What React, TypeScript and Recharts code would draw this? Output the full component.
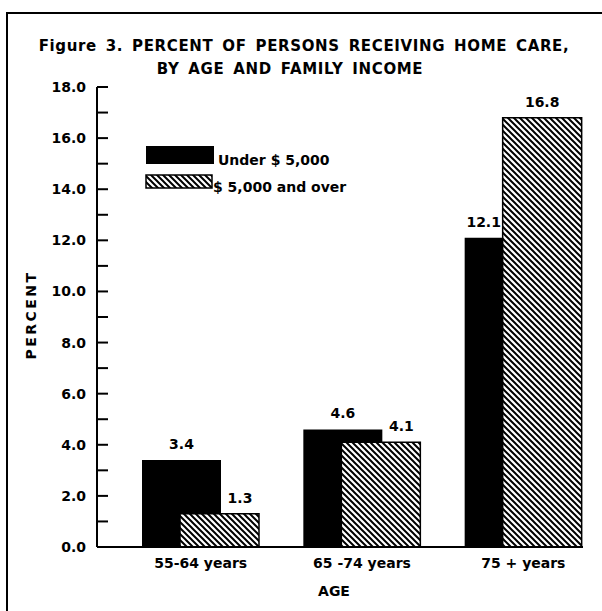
import React from 'react';
import { BarChart, Bar, XAxis, YAxis, LabelList } from 'recharts';

// values
const categories = ['55-64 years', '65 -74 years', '75 + years'];
const under5000 = [3.4, 4.6, 12.1];
const over5000 = [1.3, 4.1, 16.8];
const seriesNames = ['Under $ 5,000', '$ 5,000 and over'];
const yTicks = [0, 1, 2, 3, 4, 5, 6, 7, 8, 9, 10, 11, 12, 13, 14, 15, 16, 17, 18];

const data = categories.map((age, i) => ({ age, under: under5000[i], over: over5000[i] }));

const FONT = '"DejaVu Sans", Verdana, sans-serif';
const BAR_SIZE = 79;
const BAR_GAP = -41; // bars overlap, hatched one sits on top
const STEP = BAR_SIZE + BAR_GAP;
const OVERLAP = BAR_SIZE - STEP;

const YTick = (props: any) => {
  const { x, y, payload } = props;
  const v = payload.value;
  return (
    <g>
      <line x1={x} x2={x + 11} y1={y} y2={y} stroke="#000" strokeWidth={2} />
      {v % 2 === 0 && (
        <text x={x - 11} y={y} textAnchor="end" dominantBaseline="central" fontFamily={FONT} fontWeight="bold" fontSize={14} fill="#000">
          {v.toFixed(1)}
        </text>
      )}
    </g>
  );
};

const XTick = (props: any) => {
  const { x, y, payload } = props;
  return (
    <text x={x} y={y + 16} textAnchor="middle" dominantBaseline="central" fontFamily={FONT} fontWeight="bold" fontSize={14} fill="#000">
      {payload.value}
    </text>
  );
};

// label sits over the part of the bar whose top is visible
const makeLabel = (own: number[], other: number[], first: boolean) => (props: any) => {
  const { x, y, width, index } = props;
  const value = own[index];
  let cx = x + width / 2;
  if (other[index] > value) cx = first ? x + STEP / 2 : x + (width + OVERLAP) / 2;
  return (
    <text x={cx} y={y - 16} textAnchor="middle" dominantBaseline="central" fontFamily={FONT} fontWeight="bold" fontSize={14} fill="#000">
      {value.toFixed(1)}
    </text>
  );
};

const Hatch = ({ id }: { id: string }) => (
  <pattern id={id} patternUnits="userSpaceOnUse" width={6} height={6}>
    <rect width={6} height={6} fill="#fff" />
    <path d="M0,0 L6,6 M-3,3 L3,9 M3,-3 L9,3" stroke="#000" strokeWidth={2} />
  </pattern>
);

const titleStyle: React.CSSProperties = {
  position: 'absolute',
  width: 600,
  textAlign: 'center',
  fontSize: 15,
  fontWeight: 'bold',
  letterSpacing: 0.65,
  wordSpacing: 3,
  lineHeight: '18px',
};

const App: React.FC = () => {
  return (
    <div style={{ position: 'absolute', left: 0, top: 0, width: 602, height: 611, background: '#fff', overflow: 'hidden', fontFamily: FONT }}>
      {/* frame */}
      <div style={{ position: 'absolute', left: 6, top: 12, width: 600, height: 620, borderTop: '2px solid #000', borderLeft: '2px solid #000' }} />

      {/* title */}
      <div style={{ ...titleStyle, left: 4, top: 37 }}>Figure 3. PERCENT OF PERSONS RECEIVING HOME CARE,</div>
      <div style={{ ...titleStyle, left: -10, top: 60 }}>BY AGE AND FAMILY INCOME</div>

      <div style={{ position: 'absolute', left: 0, top: 0 }}>
        <BarChart width={602} height={611} data={data} margin={{ top: 87, right: 19, bottom: 0, left: 0 }} barGap={BAR_GAP} barSize={BAR_SIZE}>
          <defs>
            <Hatch id="hatch" />
          </defs>
          <XAxis
            dataKey="age"
            height={64}
            padding={{ left: 23, right: -21 }}
            axisLine={{ stroke: '#000', strokeWidth: 2 }}
            tickLine={false}
            tickSize={0}
            tickMargin={0}
            tick={<XTick />}
            label={{ value: 'AGE', position: 'insideBottom', offset: 15, fill: '#000', fontFamily: FONT, fontWeight: 'bold', fontSize: 14, dx: -6 }}
          />
          <YAxis
            width={97}
            domain={[0, 18]}
            ticks={yTicks}
            interval={0}
            axisLine={{ stroke: '#000', strokeWidth: 2 }}
            tickLine={false}
            tickSize={0}
            tickMargin={0}
            tick={<YTick />}
            label={{ value: 'PERCENT', angle: -90, position: 'insideLeft', offset: 31, fill: '#000', fontFamily: FONT, fontWeight: 'bold', fontSize: 14, dy: -2, style: { textAnchor: 'middle', letterSpacing: 2.5 } }}
          />
          <Bar dataKey="under" name={seriesNames[0]} fill="#000" isAnimationActive={false}>
            <LabelList dataKey="under" content={makeLabel(under5000, over5000, true)} />
          </Bar>
          <Bar dataKey="over" name={seriesNames[1]} fill="url(#hatch)" stroke="#000" strokeWidth={1.5} isAnimationActive={false}>
            <LabelList dataKey="over" content={makeLabel(over5000, under5000, false)} />
          </Bar>
        </BarChart>
      </div>

      {/* legend */}
      <svg style={{ position: 'absolute', left: 140, top: 140 }} width={240} height={56}>
        <defs>
          <Hatch id="hatchLegend" />
        </defs>
        <rect x={6} y={6} width={68} height={18} fill="#000" />
        <text x={78} y={20} dominantBaseline="central" fontFamily={FONT} fontWeight="bold" fontSize={14} fill="#000">{seriesNames[0]}</text>
        <rect x={6} y={35} width={66} height={13} fill="url(#hatchLegend)" stroke="#000" strokeWidth={1.5} />
        <text x={73} y={47} dominantBaseline="central" fontFamily={FONT} fontWeight="bold" fontSize={14} fill="#000">{seriesNames[1]}</text>
      </svg>
    </div>
  );
};

export default App;
